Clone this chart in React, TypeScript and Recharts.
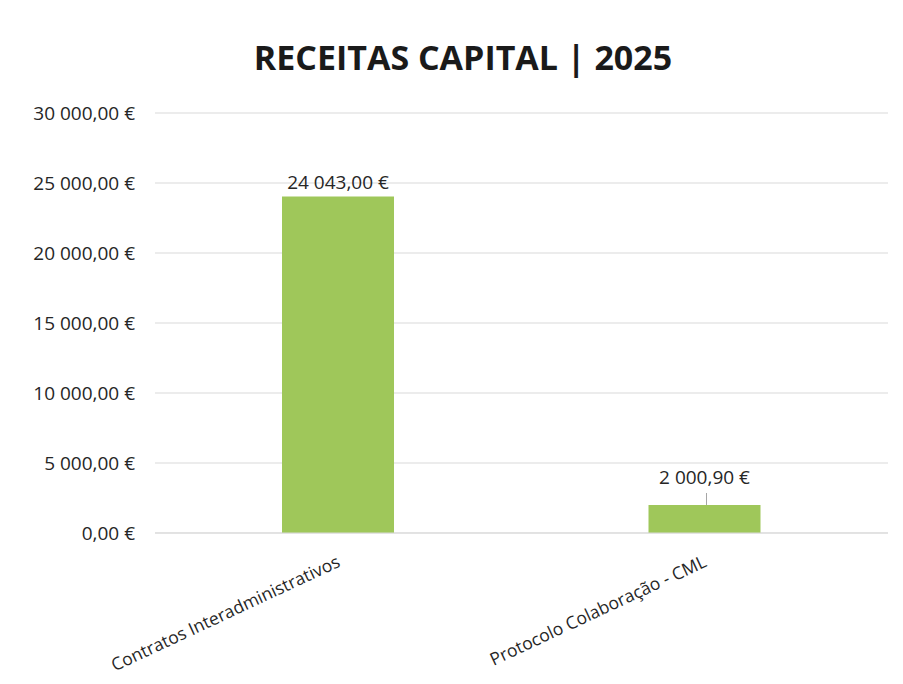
import { BarChart, Bar, XAxis, YAxis, CartesianGrid, LabelList } from 'recharts';

const categories = ['Contratos Interadministrativos', 'Protocolo Colaboração - CML'];
const receitas = [24043.0, 2000.9];
const yTicks = [0, 5000, 10000, 15000, 20000, 25000, 30000];

const data = categories.map((name, i) => ({ name, valor: receitas[i] }));

const FONT = '"Open Sans", "Noto Sans", sans-serif';

// 24043 -> "24 043,00 €"
const euro = (v: number) => {
  const [int, dec] = v.toFixed(2).split('.');
  return `${int.replace(/\B(?=(\d{3})+(?!\d))/g, ' ')},${dec} €`;
};

const XTick = ({ x, y, payload }: any) => (
  <text
    x={x + 3}
    y={y + 25}
    textAnchor="end"
    fontSize={17.5}
    fontFamily={FONT}
    fill="#262626"
    transform={`rotate(-25, ${x + 3}, ${y + 25})`}
  >
    {payload.value}
  </text>
);

const ValueLabel = ({ x, y, width, value, index }: any) => {
  const cx = x + width / 2;
  // the small bar gets its label lifted with a leader line, like in Excel
  const lifted = index === 1;
  const ty = lifted ? y - 21 : y - 7;
  return (
    <g>
      {lifted && <line x1={cx + 2} y1={y - 12} x2={cx + 2} y2={y} stroke="#a6a6a6" strokeWidth={1} />}
      <text x={cx} y={ty} textAnchor="middle" fontSize={19} fontFamily={FONT} fill="#262626">
        {euro(value)}
      </text>
    </g>
  );
};

export default function App() {
  return (
    <div style={{ position: 'absolute', left: 0, top: 0, width: 903, height: 684, background: '#fff' }}>
      <div
        style={{
          position: 'absolute',
          left: 0,
          top: 34,
          width: 926,
          textAlign: 'center',
          fontFamily: FONT,
          fontWeight: 700,
          fontSize: 34,
          color: '#1a1a1a',
        }}
      >
        RECEITAS CAPITAL | 2025
      </div>
      <BarChart
        width={903}
        height={684}
        data={data}
        margin={{ top: 113, right: 15, left: 0, bottom: 0 }}
      >
        <CartesianGrid vertical={false} stroke="#d9d9d9" />
        <XAxis
          dataKey="name"
          axisLine={{ stroke: '#d9d9d9' }}
          tickLine={false}
          interval={0}
          tick={<XTick />}
          height={151}
        />
        <YAxis
          domain={[0, 30000]}
          ticks={yTicks}
          tickFormatter={euro}
          axisLine={false}
          tickLine={false}
          width={155}
          tickMargin={14}
          tick={{ fontSize: 19, fontFamily: FONT, fill: '#262626' }}
        />
        <Bar dataKey="valor" fill="#9fc75a" barSize={112} isAnimationActive={false}>
          <LabelList dataKey="valor" content={<ValueLabel />} />
        </Bar>
      </BarChart>
    </div>
  );
}
